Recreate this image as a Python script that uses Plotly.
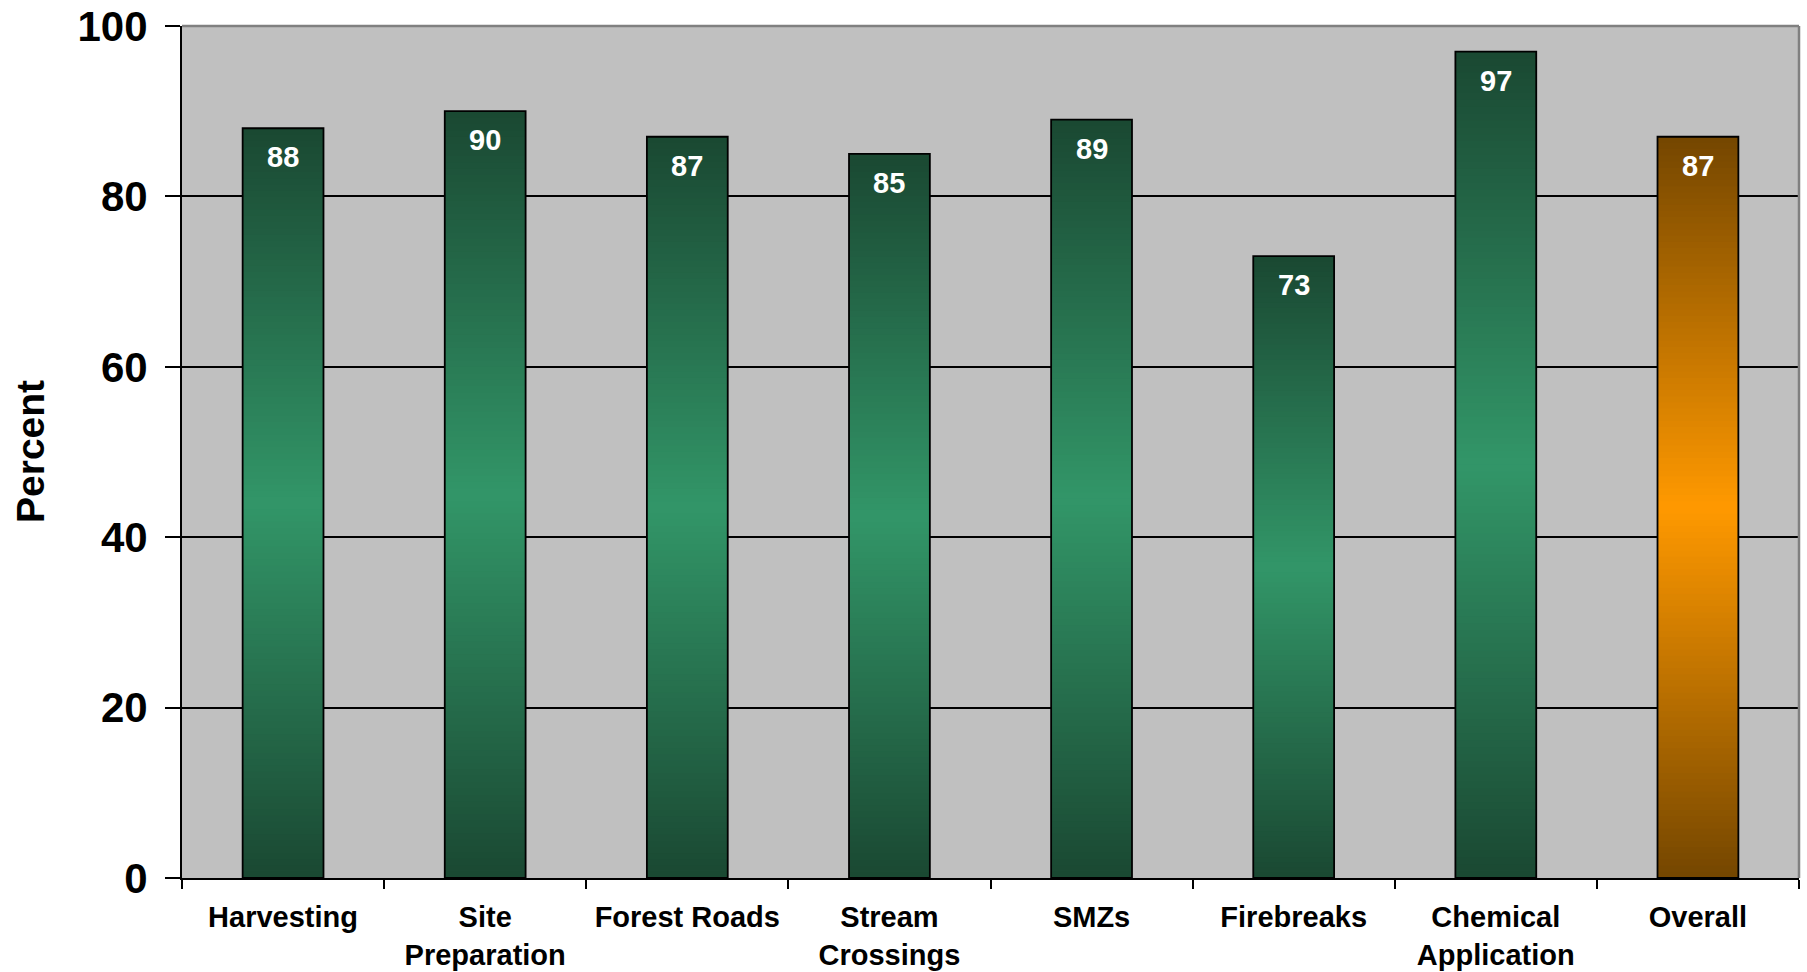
import plotly.graph_objects as go

categories = ["Harvesting", "Site<br>Preparation", "Forest Roads", "Stream<br>Crossings",
              "SMZs", "Firebreaks", "Chemical<br>Application", "Overall"]
values = [88, 90, 87, 85, 89, 73, 97, 87]
is_overall = [False, False, False, False, False, False, False, True]
y_ticks = [0, 20, 40, 60, 80, 100]

GREEN_DARK = (26, 72, 50)
GREEN_LIGHT = (50, 150, 104)
ORANGE_DARK = (116, 70, 0)
ORANGE_LIGHT = (255, 153, 0)
FONT = "Arial, Liberation Sans, sans-serif"
N = 120


def lerp(c1, c2, t):
    return "rgb(%d,%d,%d)" % tuple(round(a + (b - a) * t) for a, b in zip(c1, c2))


def grad_color(overall, frac):
    t = abs(2 * frac - 1)
    if overall:
        return lerp(ORANGE_LIGHT, ORANGE_DARK, t)
    return lerp(GREEN_LIGHT, GREEN_DARK, t)


fig = go.Figure()
# nested bars from 0, largest first; each visible part forms one gradient band
for k in range(N):
    top_frac = (N - k) / N
    mid_frac = (N - k - 0.5) / N
    fig.add_trace(go.Bar(
        x=categories,
        y=[v * top_frac for v in values],
        marker=dict(color=[grad_color(o, mid_frac) for o in is_overall], line=dict(width=0)),
        showlegend=False, hoverinfo="skip",
    ))

# outline
fig.add_trace(go.Bar(
    x=categories, y=values,
    marker=dict(color="rgba(0,0,0,0)", line=dict(color="black", width=1.8)),
    showlegend=False,
))

for c, v in zip(categories, values):
    fig.add_annotation(x=c, y=v, text=str(v), showarrow=False, yshift=-29,
                       yanchor="middle", font=dict(family=FONT, size=29, color="white", weight="bold"))

fig.add_annotation(xref="paper", yref="paper", x=-0.094, y=0.5, text="<b>Percent</b>",
                   textangle=-90, showarrow=False, xanchor="center", yanchor="middle",
                   font=dict(family=FONT, size=39, color="black"))

fig.add_shape(type="line", xref="paper", yref="paper", x0=0, x1=1, y0=1, y1=1,
              line=dict(color="#808080", width=2.5), layer="above")
fig.add_shape(type="line", xref="paper", yref="paper", x0=1, x1=1, y0=0, y1=1,
              line=dict(color="#808080", width=2.5), layer="above")

fig.update_layout(
    width=1807, height=972,
    margin=dict(l=182, r=8, t=26, b=94),
    barmode="overlay", bargap=0.6,
    plot_bgcolor="#C0C0C0", paper_bgcolor="white",
    font=dict(family=FONT, color="black"),
)
fig.update_xaxes(
    type="category", showline=True, linecolor="black", linewidth=2,
    ticks="outside", tickson="boundaries", ticklen=9, tickwidth=1.5, tickcolor="black",
    tickfont=dict(family=FONT, size=29, color="black", weight="bold"),
    ticklabelstandoff=12, showgrid=False, automargin=False,
)
fig.update_yaxes(
    range=[0, 100], tickvals=y_ticks, showline=True, linecolor="black", linewidth=2,
    ticks="outside", ticklen=15, tickwidth=1.5, tickcolor="black",
    tickfont=dict(family=FONT, size=42, color="black", weight="bold"),
    ticklabelstandoff=9, showgrid=True, gridcolor="black", gridwidth=1.5, zeroline=False,
    automargin=False,
)

# remove the default page margin so the figure fills the window exactly
fig.write_html("out.html", config={"displayModeBar": False},
               post_script="document.body.style.margin='0';")
